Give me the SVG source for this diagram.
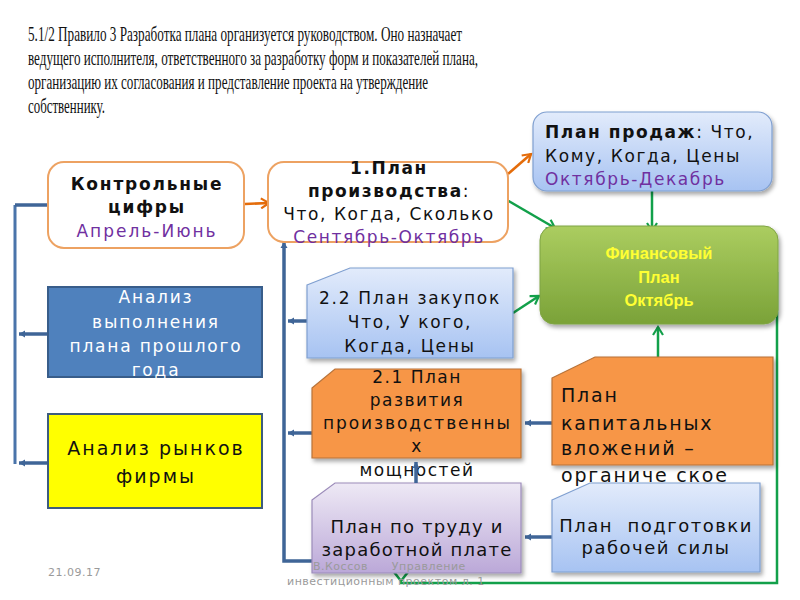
<svg xmlns="http://www.w3.org/2000/svg" width="800" height="600" viewBox="0 0 800 600">
<style>
.title{font-family:"Liberation Serif",serif;font-size:22px;fill:#111}
.n{font-family:"DejaVu Sans",sans-serif;font-size:17px;fill:#111;text-anchor:middle;letter-spacing:1.6px}
.b{font-weight:bold}
.pur{fill:#7030A0}
.w{fill:#fff}
.fin{font-family:"Liberation Sans",sans-serif;font-weight:bold;font-size:16.5px;fill:#FFFF33;text-anchor:middle}
.foot{font-family:"DejaVu Sans",sans-serif;font-size:11px;fill:#9a9a9a;letter-spacing:0.5px}
.blue{stroke:#3F6597;stroke-width:3.5;fill:none}
.bv{stroke:#4A74AA;stroke-width:3;fill:none}
.grn{stroke:#12A04A;stroke-width:2.5;fill:none}
.org{stroke:#E46C0A;stroke-width:2.5;fill:none}
</style>
<defs>
<linearGradient id="gBlue" x1="0" y1="0" x2="0" y2="1"><stop offset="0" stop-color="#E2EBFB"/><stop offset="1" stop-color="#A7C3F2"/></linearGradient>
<linearGradient id="gLav" x1="0" y1="0" x2="0" y2="1"><stop offset="0" stop-color="#EEE9F5"/><stop offset="1" stop-color="#BBA8D8"/></linearGradient>
<linearGradient id="gGrn" x1="0" y1="0" x2="0" y2="1"><stop offset="0" stop-color="#ABCD60"/><stop offset="1" stop-color="#7AA238"/></linearGradient>
<filter id="sh" x="-10%" y="-10%" width="125%" height="130%"><feDropShadow dx="2" dy="3" stdDeviation="2" flood-color="#000" flood-opacity="0.35"/></filter>
<marker id="aG" markerWidth="12" markerHeight="12" refX="9" refY="6" orient="auto" markerUnits="userSpaceOnUse"><path d="M1,1 L9,6 L1,11" fill="none" stroke="#12A04A" stroke-width="2.2"/></marker>
<marker id="aO" markerWidth="12" markerHeight="12" refX="9" refY="6" orient="auto" markerUnits="userSpaceOnUse"><path d="M1,1 L9,6 L1,11" fill="none" stroke="#E46C0A" stroke-width="2.2"/></marker>
<marker id="aB" markerWidth="8" markerHeight="8" refX="6" refY="4" orient="auto" markerUnits="userSpaceOnUse"><path d="M0,0.5 L6,4 L0,7.5 Z" fill="#3F6597"/></marker>
</defs>
<rect width="800" height="600" fill="#fff"/>

<g id="title">
<text class="title" x="28" y="41" textLength="434" lengthAdjust="spacingAndGlyphs">5.1/2  Правило 3 Разработка плана организуется руководством. Оно назначает</text>
<text class="title" x="28" y="65" textLength="450" lengthAdjust="spacingAndGlyphs">ведущего исполнителя, ответственного за разработку форм и показателей плана,</text>
<text class="title" x="28" y="89" textLength="400" lengthAdjust="spacingAndGlyphs">организацию их согласования и представление проекта на утверждение</text>
<text class="title" x="28" y="113" textLength="77" lengthAdjust="spacingAndGlyphs">собственнику.</text>
</g>

<g id="connectors">
<line class="bv" x1="15" y1="205" x2="15" y2="464"/>
<line class="blue" x1="47" y1="205" x2="15" y2="205"/>
<line class="blue" x1="48" y1="334" x2="19" y2="334" marker-end="url(#aB)"/>
<line class="blue" x1="48" y1="463" x2="19" y2="463" marker-end="url(#aB)"/>
<polyline class="blue" points="312,561 284,561 284,242" marker-end="url(#aB)"/>
<line class="blue" x1="307" y1="321" x2="288" y2="321" marker-end="url(#aB)"/>
<line class="blue" x1="312" y1="433" x2="288" y2="433" marker-end="url(#aB)"/>
<line class="blue" x1="552" y1="423" x2="525" y2="423" marker-end="url(#aB)"/>
<line class="blue" x1="552" y1="537" x2="525" y2="537" marker-end="url(#aB)"/>
<line class="org" x1="245" y1="204" x2="269" y2="203" marker-end="url(#aO)"/>
<line class="org" x1="508" y1="174" x2="531" y2="154" marker-end="url(#aO)"/>
<line class="grn" x1="507" y1="200" x2="555" y2="228" marker-end="url(#aG)"/>
<line class="grn" x1="652" y1="190" x2="652" y2="231" marker-end="url(#aG)"/>
<line class="grn" x1="513" y1="313" x2="539" y2="296" marker-end="url(#aG)"/>
<line class="grn" x1="658" y1="364" x2="658" y2="327" marker-end="url(#aG)"/>
<polyline class="grn" points="777,272 777,583 400,583"/>
<path class="grn" d="M394,572 L401,581 L408,572"/>
</g>

<g id="n-kontrol">
<rect x="48" y="162" width="196" height="86" rx="16" fill="#fff" stroke="#EDA262" stroke-width="2"/>
<text class="n b" x="147" y="190" style="letter-spacing:1.8px">Контрольные</text>
<text class="n b" x="147" y="213" style="letter-spacing:1.8px">цифры</text>
<text class="n pur" x="147" y="237" style="letter-spacing:2px">Апрель-Июнь</text>
</g>

<g id="n-proizv">
<rect x="268" y="162" width="240" height="80" rx="16" fill="#fff" stroke="#EDA262" stroke-width="2"/>
<text class="n" x="389" y="174"><tspan class="b">1.План</tspan></text>
<text class="n" x="389" y="197"><tspan class="b">производства</tspan>:</text>
<text class="n" x="389" y="220">Что, Когда, Сколько</text>
<text class="n pur" x="389" y="243">Сентябрь-Октябрь</text>
</g>

<g id="n-prodazh">
<rect x="533" y="112" width="239" height="79" rx="14" fill="url(#gBlue)" stroke="#7F9FD0" stroke-width="1.2" filter="url(#sh)"/>
<text class="n" x="545" y="138" style="text-anchor:start"><tspan class="b">План продаж</tspan>: Что,</text>
<text class="n" x="545" y="162" style="text-anchor:start">Кому, Когда, Цены</text>
<text class="n pur" x="545" y="185" style="text-anchor:start">Октябрь-Декабрь</text>
</g>

<g id="n-fin">
<rect x="540" y="226" width="238" height="98" rx="14" fill="url(#gGrn)" stroke="#7FA444" stroke-width="1" filter="url(#sh)"/>
<text class="fin" x="659" y="259">Финансовый</text>
<text class="fin" x="659" y="283">План</text>
<text class="fin" x="659" y="306">Октябрь</text>
</g>

<g id="n-analiz-vyp">
<rect x="48" y="287" width="214" height="90" fill="#4F81BD" stroke="#385D8A" stroke-width="2"/>
<text class="n w" x="156" y="303" style="letter-spacing:1.8px">Анализ</text>
<text class="n w" x="156" y="328" style="letter-spacing:1.8px">выполнения</text>
<text class="n w" x="156" y="352" style="letter-spacing:1.8px">плана прошлого</text>
<text class="n w" x="156" y="376" style="letter-spacing:1.8px">года</text>
</g>

<g id="n-analiz-rynk">
<rect x="48" y="414" width="214" height="94" fill="#FFFF00" stroke="#3D5C7E" stroke-width="2"/>
<text class="n" x="156" y="455" style="font-size:19px;letter-spacing:2px">Анализ рынков</text>
<text class="n" x="156" y="483" style="font-size:19px;letter-spacing:2px">фирмы</text>
</g>

<g id="n-zakup">
<path d="M307,285 L350,268 L513,268 L513,358 L307,358 Z" fill="url(#gBlue)" stroke="#7F9FD0" stroke-width="1.2" filter="url(#sh)"/>
<text class="n" x="410" y="304" style="letter-spacing:1.7px">2.2 План закупок</text>
<text class="n" x="410" y="328" style="letter-spacing:1.7px">Что, У кого,</text>
<text class="n" x="410" y="352" style="letter-spacing:1.7px">Когда, Цены</text>
</g>

<g id="n-razv">
<path d="M312,388 L335,369 L521,369 L521,458 L312,458 Z" fill="#F79646" stroke="#B8733A" stroke-width="1.2" filter="url(#sh)"/>
<text class="n" x="417" y="383" style="letter-spacing:1.5px">2.1 План</text>
<text class="n" x="417" y="406" style="letter-spacing:1.5px">развития</text>
<text class="n" x="323" y="429" style="text-anchor:start;letter-spacing:0" textLength="187" lengthAdjust="spacing">производственны</text>
<text class="n" x="417" y="452" style="letter-spacing:1.5px">х</text>
<text class="n" x="417" y="476" style="letter-spacing:1.5px">мощностей</text>
</g>

<g id="n-trud">
<path d="M312,500 L335,483 L521,483 L521,573 L312,573 Z" fill="url(#gLav)" stroke="#9C8CBA" stroke-width="1.2" filter="url(#sh)"/>
<text class="n" x="417" y="533" style="font-size:18px;letter-spacing:1.2px">План по труду и</text>
<text class="n" x="417" y="556" style="font-size:18px;letter-spacing:1.2px">заработной плате</text>
</g>

<line class="blue" x1="416" y1="483" x2="416" y2="462" marker-end="url(#aB)"/>

<g id="n-kapital">
<path d="M552,378 L595,357 L773,357 L773,465 L552,465 Z" fill="#F79646" stroke="#B8733A" stroke-width="1.2" filter="url(#sh)"/>
<text class="n" x="561" y="402" style="text-anchor:start;font-size:19px;letter-spacing:1.8px">План</text>
<text class="n" x="561" y="430" style="text-anchor:start;font-size:19px;letter-spacing:1.8px">капитальных</text>
<text class="n" x="561" y="455" style="text-anchor:start;font-size:19px;letter-spacing:1.8px">вложений –</text>
<text class="n" x="561" y="482" style="text-anchor:start;font-size:19px;letter-spacing:1.8px">органиче ское</text>
</g>

<g id="n-podg">
<path d="M552,500 L590,483 L760,483 L760,572 L552,572 Z" fill="url(#gBlue)" stroke="#7F9FD0" stroke-width="1.2" filter="url(#sh)"/>
<text class="n" x="656" y="532" style="font-size:18px;letter-spacing:1.5px" xml:space="preserve">План  подготовки</text>
<text class="n" x="656" y="554" style="font-size:18px;letter-spacing:1.5px">рабочей силы</text>
</g>

<g id="footer">
<text class="foot" x="48" y="576">21.09.17</text>
<text class="foot" x="313" y="570" xml:space="preserve">В.Коссов      Управление</text>
<text class="foot" x="287" y="585">инвестиционным проектом  л. 1</text>
</g>
</svg>
